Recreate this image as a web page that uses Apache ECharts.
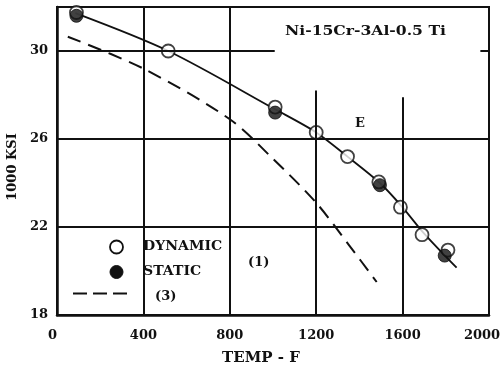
<!DOCTYPE html>
<html>
<head>
<meta charset="utf-8">
<script src="https://cdn.jsdelivr.net/npm/echarts@6/dist/echarts.min.js"></script>
<style>
  html, body { margin: 0; padding: 0; background: #fff; }
  #chart { width: 502px; height: 368px; }
</style>
</head>
<body>
<div id="chart"></div>
<script>
// Ni-15Cr-3Al-0.5Ti modulus vs temperature
const xTicks = [0, 400, 800, 1200, 1600, 2000];
const yTicks = [18, 22, 26, 30];

// measured points: [temp F, 1000 KSI]
const dynamicPts = [[90, 31.75], [515, 30.0], [1010, 27.45], [1200, 26.3], [1345, 25.2], [1490, 24.05], [1590, 22.9], [1690, 21.65], [1810, 20.95]];
const staticPts = [[90, 31.6], [1010, 27.2], [1495, 23.9], [1795, 20.7]];

// faired curve (1) and reference curve (3)
const curve1 = [[85, 31.72], [515, 30.0], [1010, 27.35], [1200, 26.3], [1345, 25.2], [1495, 24.0], [1595, 22.95], [1700, 21.7], [1850, 20.15]];
const curve3 = [[50, 30.65], [400, 29.2], [800, 26.9], [1000, 25.1], [1200, 23.1], [1350, 21.2], [1480, 19.5]];

const font = 'DejaVu Serif';
const ink = '#111';

// grid rules, some drawn only part way across the field
const rules = [
  [[0, 30], [1008, 30]],
  [[1960, 30], [2000, 30]],
  [[0, 26], [2000, 26]],
  [[0, 22], [2000, 22]],
  [[400, 18], [400, 32]],
  [[800, 18], [800, 32]],
  [[1200, 18], [1200, 28.2]],
  [[1600, 18], [1600, 27.9]]
].map(p => [{ coord: p[0] }, { coord: p[1] }]);

const chart = echarts.init(document.getElementById('chart'), null, { renderer: 'canvas' });
chart.setOption({
  animation: false,
  backgroundColor: '#fff',
  grid: { left: 57, right: 13, top: 7, bottom: 53, outerBoundsMode: 'none', containLabel: false,
    show: true, borderColor: ink, borderWidth: 2, backgroundColor: 'transparent' },
  xAxis: {
    type: 'value', min: 0, max: 2000, interval: 400,
    axisLine: { lineStyle: { color: ink, width: 2.5 } },
    axisTick: { show: false },
    splitLine: { show: false },
    axisLabel: { color: ink, fontFamily: font, fontWeight: 'bold', fontSize: 13, margin: 14,
      formatter: v => {
        if (!xTicks.includes(v)) return '';
        if (v === 0) return '{l|0}';
        if (v === 2000) return '{r|2000}';
        return String(v);
      },
      rich: {
        l: { fontFamily: font, fontWeight: 'bold', fontSize: 13, color: ink, padding: [0, 9, 0, 0] },
        r: { fontFamily: font, fontWeight: 'bold', fontSize: 13, color: ink, padding: [0, 14, 0, 0] }
      } },
    name: 'TEMP - F', nameLocation: 'middle', nameGap: 36,
    nameTextStyle: { color: ink, fontFamily: font, fontWeight: 'bold', fontSize: 15, padding: [0, 24, 0, 0] }
  },
  yAxis: {
    type: 'value', min: 18, max: 32, interval: 2,
    axisLine: { show: true, lineStyle: { color: ink, width: 2.5 } },
    axisTick: { show: false },
    splitLine: { show: false },
    axisLabel: { color: ink, fontFamily: font, fontWeight: 'bold', fontSize: 13, margin: 9,
      formatter: v => yTicks.includes(v) ? String(v) : '' },
    name: '1000 KSI', nameLocation: 'middle', nameGap: 34, nameRotate: 90,
    nameTextStyle: { color: ink, fontFamily: font, fontWeight: 'bold', fontSize: 13, padding: [0, 0, 0, -12] }
  },
  series: [
    {
      type: 'line', data: [], z: 1, silent: true,
      markLine: { silent: true, symbol: 'none', label: { show: false },
        lineStyle: { color: ink, width: 2, type: 'solid' }, data: rules }
    },
    {
      name: '(1)', type: 'line', data: curve1, smooth: 0.3, showSymbol: false, z: 3,
      lineStyle: { color: ink, width: 1.8 }
    },
    {
      name: '(3)', type: 'line', data: curve3, smooth: 0.3, showSymbol: false, z: 3,
      lineStyle: { color: ink, width: 2, type: [14, 8] }
    },
    {
      name: 'DYNAMIC', type: 'scatter', data: dynamicPts, symbol: 'circle', symbolSize: 13, z: 4,
      itemStyle: { color: '#fff', borderColor: ink, borderWidth: 1.8 }
    },
    {
      name: 'STATIC', type: 'scatter', data: staticPts, symbol: 'circle', symbolSize: 13, z: 5,
      itemStyle: { color: ink, borderColor: ink, borderWidth: 1 }
    }
  ],
  graphic: [
    { type: 'text', x: 285, y: 25, scaleX: 1.2, style: { text: 'Ni-15Cr-3Al-0.5 Ti', font: 'bold 13px "DejaVu Serif"', fill: ink } },
    { type: 'text', left: 355, top: 117, style: { text: 'E', font: 'bold 13px "DejaVu Serif"', fill: ink } },
    { type: 'text', left: 248, top: 256, style: { text: '(1)', font: 'bold 13px "DejaVu Serif"', fill: ink } },
    // key
    { type: 'circle', shape: { cx: 116.5, cy: 247, r: 6.5 }, style: { fill: '#fff', stroke: ink, lineWidth: 1.8 } },
    { type: 'text', x: 143, y: 240, scaleX: 1.08, style: { text: 'DYNAMIC', font: 'bold 13px "DejaVu Serif"', fill: ink } },
    { type: 'circle', shape: { cx: 116.5, cy: 272, r: 6.5 }, style: { fill: ink, stroke: ink, lineWidth: 1 } },
    { type: 'text', x: 143, y: 265, scaleX: 1.08, style: { text: 'STATIC', font: 'bold 13px "DejaVu Serif"', fill: ink } },
    { type: 'line', shape: { x1: 73, y1: 293.5, x2: 127, y2: 293.5 }, style: { stroke: ink, lineWidth: 2, lineDash: [14, 6] } },
    { type: 'text', left: 155, top: 290, style: { text: '(3)', font: 'bold 13px "DejaVu Serif"', fill: ink } }
  ]
});
</script>
</body>
</html>
